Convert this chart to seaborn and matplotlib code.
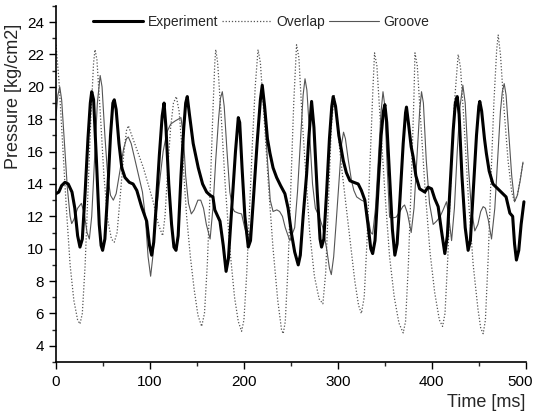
import matplotlib
matplotlib.use("Agg")
import matplotlib.pyplot as plt
import matplotlib.transforms as mtransforms
import seaborn as sns
import pandas as pd
from matplotlib.ticker import MultipleLocator

# ---------------- data ----------------
exp_t = [0, 3, 6, 9.5, 13, 17, 20, 23, 25.5, 28, 31, 34, 36.5, 38, 40, 43, 46, 48, 49.6, 52,
         55, 58, 60.5, 62, 64, 67, 70, 73.4, 78, 82, 86, 91, 96.5, 99.5, 101.8, 104, 107, 110, 113, 115,
         117, 120, 123, 125.5, 127.7, 130, 133, 136, 138, 139.7, 142, 146, 151.4, 156, 160.3, 164, 167, 169, 174.5, 178,
         181, 183.5, 187, 191, 194, 195.5, 198, 201, 204.6, 207, 210, 214, 217.5, 219.5, 222, 225, 227.7, 231, 234.8, 239,
         243.6, 247, 250.7, 254, 257.8, 260, 263, 266.7, 269, 272, 274.5, 278, 281, 282.6, 285, 288, 291, 293.5, 295, 297.5,
         301, 305.7, 309, 312.8, 317, 321.6, 325, 328.7, 332, 335, 337, 339.5, 342.5, 346, 348.5, 350, 352, 355, 358, 360.6,
         363, 366, 369.5, 372, 373, 375, 378, 380, 383, 387, 392.5, 396, 399.7, 403, 406.7, 410, 413.8, 416.5, 419.5, 422.7,
         425, 427, 429, 432, 435.5, 438.6, 441, 444, 447.5, 450, 451, 453, 456, 458, 461, 465, 472, 479, 483, 486,
         488, 490, 492.5, 495, 498]
exp_p = [13.4, 13.5, 13.9, 14.1, 14.0, 13.5, 12.5, 10.8, 10.1, 10.6, 13.5, 16.8, 19.0, 19.7, 19.2, 15.5, 11.5, 10.2, 9.9, 10.6,
         13.5, 17.0, 19.0, 19.2, 18.6, 16.5, 15.0, 14.4, 14.1, 14.0, 13.6, 12.6, 11.7, 10.2, 9.6, 10.4, 13.0, 15.8, 18.2, 19.0,
         17.5, 14.0, 11.5, 10.1, 9.9, 10.8, 14.5, 17.5, 19.0, 19.4, 18.3, 16.5, 15.0, 14.0, 13.5, 13.3, 13.2, 12.4, 11.7, 10.2,
         8.6, 9.4, 12.5, 16.0, 18.1, 17.8, 15.0, 12.0, 10.1, 10.5, 13.0, 16.5, 19.2, 20.1, 18.8, 16.8, 15.9, 15.0, 14.4, 13.9,
         13.4, 12.5, 10.9, 9.8, 9.0, 9.6, 12.0, 14.6, 16.8, 19.1, 17.5, 13.5, 10.6, 10.1, 10.6, 13.5, 16.8, 18.8, 19.4, 18.8,
         17.0, 15.45, 14.7, 14.2, 14.1, 14.0, 13.6, 13.0, 11.5, 10.0, 9.7, 10.5, 13.5, 17.0, 18.5, 18.9, 17.8, 14.5, 11.2, 9.6,
         10.3, 13.0, 16.5, 18.4, 18.75, 17.8, 16.3, 15.7, 14.5, 13.7, 13.5, 13.8, 13.7, 13.1, 12.6, 11.2, 9.7, 10.8, 14.0, 17.3,
         19.0, 19.4, 18.3, 14.5, 11.3, 9.9, 10.5, 13.5, 17.0, 18.8, 19.1, 18.5, 16.8, 15.9, 14.8, 14.0, 13.6, 13.2, 12.2, 12.0,
         10.3, 9.3, 9.9, 11.5, 12.9]

ovl_t = [0, 3, 7, 11, 15, 19, 23, 25.5, 28, 31, 34, 37, 40, 41.5, 43.5, 47, 51, 55, 59, 62,
         65, 68, 72, 75, 77, 80, 85, 93, 103, 109, 113.5, 116, 119, 122, 125, 128, 131, 135, 139, 143,
         147, 151, 155, 158, 161, 164, 167, 169, 170, 172, 176, 180, 185, 190, 194, 197.5, 200, 203, 206, 209,
         212, 215, 217.5, 221, 226, 231, 236, 240, 241.8, 244, 247, 250, 253, 256, 258.5, 262, 266, 270, 275, 280,
         284, 287, 290, 293, 296, 299, 303, 308, 313, 318, 322, 325, 328, 331, 334, 337, 339, 341.5, 345, 350,
         355, 360, 365, 369.5, 372, 375, 378, 381, 382, 384.5, 388, 393, 398, 403, 408, 411.4, 414, 417, 420, 424,
         428, 430.5, 434, 439, 444, 449, 452, 454.6, 457, 460, 463, 466, 469, 470.6, 473, 477, 481, 485, 488, 491,
         494, 497]
ovl_p = [22.6, 20.5, 16.5, 12.5, 9.0, 6.8, 5.6, 5.35, 6.0, 9.0, 13.5, 18.0, 21.5, 22.3, 21.7, 18.5, 14.5, 11.8, 10.6, 10.4,
         11.0, 13.0, 15.8, 17.3, 17.6, 17.1, 16.3, 15.0, 13.0, 11.5, 10.8, 12.0, 15.0, 17.5, 19.0, 19.4, 18.5, 15.5, 12.0, 9.5,
         7.5, 5.9, 5.2, 6.0, 9.0, 13.5, 18.5, 21.5, 22.3, 21.5, 18.0, 14.0, 10.0, 7.0, 5.5, 4.9, 5.6, 8.5, 12.5, 16.5,
         20.0, 22.3, 21.5, 18.5, 14.0, 10.0, 6.8, 5.0, 4.75, 5.5, 9.0, 14.0, 19.0, 22.6, 21.8, 18.0, 14.5, 11.0, 8.3, 6.9,
         6.6, 8.5, 13.0, 17.5, 19.5, 18.0, 15.5, 13.0, 10.5, 8.0, 6.5, 6.0, 7.0, 10.5, 15.0, 19.5, 22.1, 21.3, 18.0, 13.5,
         9.5, 7.0, 5.4, 4.8, 5.5, 9.0, 14.0, 19.5, 22.1, 21.3, 18.0, 13.5, 9.8, 7.3, 5.6, 5.2, 6.0, 9.5, 14.0, 19.0,
         22.0, 21.2, 18.0, 13.0, 9.0, 6.3, 5.1, 4.75, 5.6, 9.5, 14.5, 19.0, 22.3, 23.2, 22.0, 18.5, 15.5, 13.5, 12.9, 13.3,
         14.3, 15.3]

grv_t = [0, 2, 4, 6, 9, 12, 15, 16.7, 19, 23, 27, 30, 33, 35.5, 38, 41, 44, 47, 49, 52,
         55, 58, 61, 64, 68, 72, 75, 77, 80, 84, 88, 92, 95, 98, 100.7, 103, 106, 110, 114, 118,
         122, 127, 133, 135.5, 138, 141, 144, 147, 151, 154, 157, 160, 164, 167, 170, 173, 175, 177, 179, 182,
         185, 188, 190, 194, 197.5, 200, 203, 205, 208, 211, 214, 217, 219.5, 222, 225, 228, 231, 235, 238, 241,
         244, 247, 249, 252, 254, 257, 260, 263, 265, 267, 270, 273, 276, 280, 284, 288, 291, 293, 295.5, 298,
         301, 304, 306, 308, 311, 314.5, 317, 320, 325, 329, 332, 335, 337, 340, 343, 346, 348, 350, 352.5, 355,
         358, 362, 366, 369, 371, 374, 378, 381, 384, 387, 389, 391, 394, 397.5, 401.4, 405, 408.5, 412, 415.6, 418,
         421, 424, 427, 430, 433, 435.5, 439, 442, 445.7, 449, 452, 454.6, 457, 460, 463.5, 467, 470, 473, 475, 477,
         479, 482, 485, 488, 491, 494, 497]
grv_p = [18.2, 19.5, 20.0, 19.2, 16.5, 13.8, 12.0, 11.55, 11.8, 12.5, 12.8, 12.2, 11.0, 10.6, 12.0, 15.5, 19.0, 20.7, 20.0, 17.0,
         14.5, 13.3, 13.0, 13.4, 14.8, 16.2, 16.8, 16.9, 16.5, 15.5, 14.5, 13.5, 12.0, 9.5, 8.3, 9.5, 11.8, 14.0, 16.0, 17.2,
         17.7, 17.9, 18.1, 17.0, 14.5, 12.8, 12.15, 12.4, 13.0, 13.0, 12.5, 11.5, 10.6, 12.5, 15.5, 18.0, 19.3, 19.7, 18.8, 16.0,
         13.5, 12.5, 12.3, 12.2, 12.15, 11.5, 10.8, 10.6, 11.5, 14.0, 16.8, 18.8, 19.8, 18.5, 15.5, 13.0, 12.3, 12.4, 12.3, 12.0,
         11.3, 10.8, 10.5, 11.0, 11.3, 13.5, 16.5, 19.5, 20.5, 19.8, 17.0, 14.0, 12.5, 12.0, 11.3, 10.0, 8.8, 8.4, 9.5, 11.5,
         14.0, 16.5, 17.2, 16.8, 15.5, 14.2, 13.6, 13.2, 13.0, 12.9, 12.0, 11.0, 10.9, 12.5, 15.5, 18.5, 19.7, 18.8, 15.0, 11.95,
         11.9, 11.95, 12.3, 12.6, 12.7, 12.2, 11.0, 12.5, 15.5, 18.5, 19.7, 19.0, 15.5, 12.8, 11.5, 11.7, 11.95, 12.4, 12.9, 12.0,
         10.5, 12.5, 16.0, 18.8, 20.1, 19.0, 15.0, 12.5, 11.1, 11.5, 12.3, 12.6, 12.5, 11.8, 10.6, 12.5, 15.5, 18.5, 19.7, 20.2,
         19.5, 17.0, 14.5, 12.9, 13.3, 14.2, 15.35]

series_names = ["Experiment", "Overlap", "Groove"]
y_ticks = [4, 6, 8, 10, 12, 14, 16, 18, 20, 22, 24]
x_ticks = [0, 100, 200, 300, 400, 500]

# ---------------- plot ----------------
sns.set_style("ticks")
plt.rcParams["font.family"] = ["Liberation Sans", "DejaVu Sans"]

fig = plt.figure(figsize=(5.36, 4.15), dpi=100)
ax = fig.add_axes([0.1045, 0.1277, 0.8765, 0.858])

sns.lineplot(x=exp_t, y=exp_p, ax=ax, color="black", linewidth=2.2,
             sort=False, estimator=None, label=series_names[0], zorder=3)
sns.lineplot(x=ovl_t, y=ovl_p, ax=ax, color="#555555", linewidth=0.9,
             linestyle=(0, (1, 1.5)), sort=False, estimator=None, label=series_names[1], zorder=2)
sns.lineplot(x=grv_t, y=grv_p, ax=ax, color="#555555", linewidth=0.8,
             sort=False, estimator=None, label=series_names[2], zorder=2)

ax.set_xlim(0, 500)
ax.set_ylim(3, 25)
ax.set_xticks(x_ticks)
ax.set_yticks(y_ticks)
ax.xaxis.set_minor_locator(MultipleLocator(50))
ax.yaxis.set_minor_locator(MultipleLocator(1))
ax.tick_params(axis="both", which="major", direction="out", length=5, width=1,
               labelsize=11, colors="black")
ax.tick_params(axis="both", which="minor", direction="out", length=3, width=1)
ax.tick_params(axis="x", pad=4)

for s in ["top", "right"]:
    ax.spines[s].set_visible(False)
for s in ["left", "bottom"]:
    ax.spines[s].set_color("black")
    ax.spines[s].set_linewidth(1.2)

ax.set_ylabel("Pressure [kg/cm2]", fontsize=13)
ax.yaxis.set_label_coords(-0.072, 0.745)
ax.set_xlabel("Time [ms]", fontsize=13, loc="right")

# keep the last x tick label inside the figure
fig.canvas.draw()
last = ax.get_xticklabels()[-1]
last.set_transform(last.get_transform() +
                   mtransforms.ScaledTranslation(-4 / 72, 0, fig.dpi_scale_trans))

leg = ax.legend(ncol=3, loc="upper center", bbox_to_anchor=(0.437, 1.01),
                frameon=False, handlelength=3.6, columnspacing=0.3,
                handletextpad=0.3, fontsize=10)

fig.savefig("out.png", dpi=100)
